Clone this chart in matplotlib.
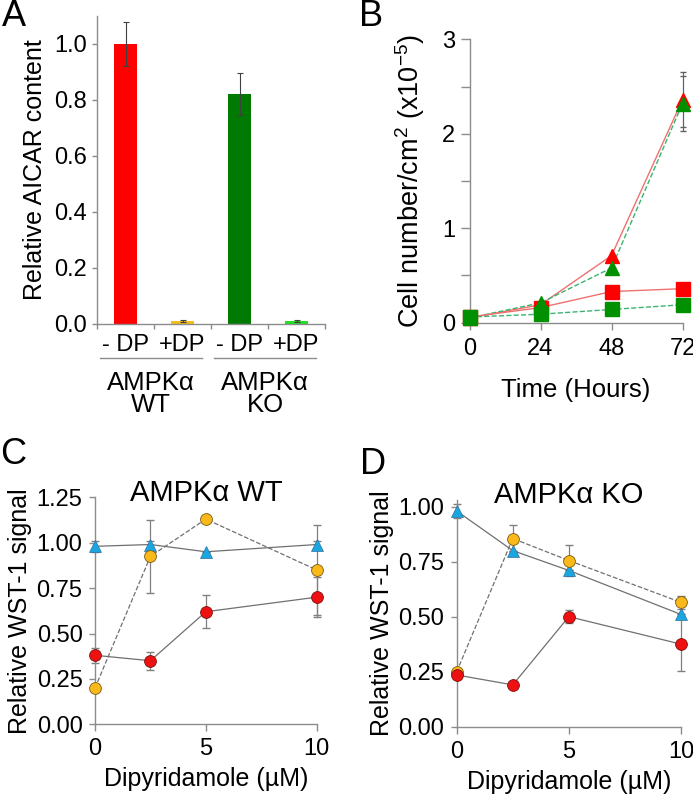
import numpy as np
import matplotlib
matplotlib.use('Agg')
import matplotlib.pyplot as plt

plt.rcParams['font.family'] = ['Liberation Sans', 'DejaVu Sans']
plt.rcParams['mathtext.default'] = 'regular'

W, H = 693, 794

# Panel A: relative AICAR content
a_labels = ['- DP', '+DP', '- DP', '+DP']
a_values = [1.0, 0.012, 0.82, 0.012]
a_errors = [0.08, 0.004, 0.075, 0.004]
a_colors = ['#ff0000', '#f5c01a', '#007a00', '#22e022']
a_groups = ['AMPK\u03b1\nWT', 'AMPK\u03b1\nKO']

# Panel B: cell number over time
b_hours = [0, 24, 48, 72]
b_wt_ctrl = [0.05, 0.19, 0.71, 2.36]
b_ko_ctrl = [0.05, 0.21, 0.58, 2.32]
b_wt_dp = [0.06, 0.16, 0.33, 0.36]
b_ko_dp = [0.06, 0.09, 0.14, 0.19]
b_wt_ctrl_err = [0.0, 0.0, 0.0, 0.29]
b_ko_ctrl_err = [0.0, 0.0, 0.0, 0.29]

# Panels C/D: WST-1 signal vs dipyridamole
dose = [0, 2.5, 5, 10]
c_blue = [0.98, 0.99, 0.95, 0.99]
c_blue_err = [0.03, 0.02, 0.0, 0.02]
c_yellow = [0.20, 0.925, 1.13, 0.85]
c_yellow_err = [0.0, 0.20, 0.0, 0.25]
c_red = [0.38, 0.35, 0.62, 0.70]
c_red_err = [0.04, 0.05, 0.09, 0.11]

d_blue = [0.98, 0.80, 0.71, 0.51]
d_blue_err = [0.03, 0.0, 0.0, 0.0]
d_yellow = [0.25, 0.855, 0.755, 0.565]
d_yellow_err = [0.0, 0.06, 0.07, 0.03]
d_red = [0.235, 0.19, 0.50, 0.375]
d_red_err = [0.0, 0.0, 0.03, 0.12]

GREY = '#8c8c8c'
TICK_FS = 17
LAB_FS = 18
LETTER_FS = 26


def px_axes(fig, left, top, right, bottom):
    return fig.add_axes([left / W, 1 - bottom / H, (right - left) / W, (bottom - top) / H])


def style_axes(ax):
    for side in ['top', 'right']:
        ax.spines[side].set_visible(False)
    for side in ['left', 'bottom']:
        ax.spines[side].set_color(GREY)
        ax.spines[side].set_linewidth(1.0)
    ax.tick_params(which='both', direction='out', color=GREY, length=4.5, width=1.0,
                   labelsize=TICK_FS, pad=4.5)


fig = plt.figure(figsize=(W / 100, H / 100), dpi=100)

# ---- A ----
axA = px_axes(fig, 97, 16, 325, 324)
style_axes(axA)
xa = np.arange(len(a_values))
axA.bar(xa, a_values, width=0.42, color=a_colors, yerr=a_errors,
        error_kw=dict(ecolor='#404040', elinewidth=0.8, capsize=2.5, capthick=0.8))
axA.set_xlim(-0.5, 3.5)
axA.set_ylim(0, 1.1)
axA.set_yticks([0, 0.2, 0.4, 0.6, 0.8, 1.0])
axA.set_yticklabels(['0.0', '0.2', '0.4', '0.6', '0.8', '1.0'])
axA.tick_params(axis='y', length=3.5, pad=4)
axA.set_xticks(xa)
axA.set_xticklabels(a_labels)
axA.set_xticks([-0.5, 0.5, 1.5, 2.5, 3.5], minor=True)
axA.tick_params(axis='x', which='major', length=0, pad=7)
axA.tick_params(axis='x', which='minor', length=3.5)
axA.set_ylabel('Relative AICAR content', fontsize=LAB_FS, labelpad=5)
for i, g in enumerate(a_groups):
    axA.plot([2 * i - 0.45, 2 * i + 1.35], [-0.112, -0.112], color=GREY, lw=1.0,
             transform=axA.get_xaxis_transform(), clip_on=False)
    axA.text(2 * i + 0.45, -0.152, g, transform=axA.get_xaxis_transform(),
             ha='center', va='top', fontsize=18.5, linespacing=0.9)
fig.text(14 / W, 1 - 16 / H, 'A', fontsize=LETTER_FS, ha='center', va='center')

# ---- B ----
axB = px_axes(fig, 469.5, 39.3, 682.5, 322.7)
style_axes(axB)
red_line = '#f07070'
green_line = '#3cb371'
axB.plot(b_hours, b_wt_ctrl, color=red_line, lw=1.0, zorder=2, clip_on=False)
axB.plot(b_hours, b_ko_ctrl, color=green_line, lw=1.0, ls='--', zorder=2, clip_on=False)
axB.plot(b_hours, b_wt_dp, color=red_line, lw=1.0, zorder=2, clip_on=False)
axB.plot(b_hours, b_ko_dp, color=green_line, lw=1.0, ls='--', zorder=2, clip_on=False)
axB.errorbar(b_hours, b_wt_ctrl, yerr=b_wt_ctrl_err, fmt='none', ecolor='#606060',
             elinewidth=0.8, capsize=2.5, zorder=1, clip_on=False)
axB.errorbar(b_hours, b_ko_ctrl, yerr=b_ko_ctrl_err, fmt='none', ecolor='#606060',
             elinewidth=0.8, capsize=2.5, zorder=1, clip_on=False)
axB.plot(b_hours, b_wt_ctrl, ls='none', marker='^', ms=10, color='#ff0000', zorder=3, clip_on=False)
axB.plot(b_hours, b_ko_ctrl, ls='none', marker='^', ms=10, color='#009000', zorder=4, clip_on=False)
axB.plot(b_hours, b_wt_dp, ls='none', marker='s', ms=9.5, color='#ff0000', zorder=3, clip_on=False)
axB.plot(b_hours, b_ko_dp, ls='none', marker='s', ms=9.5, color='#009000', zorder=4, clip_on=False)
axB.set_xlim(0, 72)
axB.set_ylim(0, 3)
axB.set_xticks(b_hours)
axB.set_yticks([0, 1, 2, 3])
axB.set_yticks([0.5, 1.5, 2.5], minor=True)
axB.tick_params(axis='y', which='both', length=6.5, pad=4)
axB.tick_params(axis='x', length=5, pad=6)
axB.set_xlabel('Time (Hours)', fontsize=LAB_FS + 0.5, labelpad=13)
axB.set_ylabel('Cell number/cm$^2$ (x10$^{-5}$)', fontsize=19.5, labelpad=11)
fig.text(371 / W, 1 - 17 / H, 'B', fontsize=LETTER_FS, ha='center', va='center')


# ---- C / D ----
def wst_panel(ax, blue, blue_err, yellow, yellow_err, red, red_err, title):
    style_axes(ax)
    ax.plot(dose, blue, color='#707070', lw=0.9, zorder=2, clip_on=False)
    ax.plot(dose, red, color='#707070', lw=0.9, zorder=2, clip_on=False)
    ax.plot(dose, yellow, color='#707070', lw=0.9, ls='--', zorder=2, clip_on=False)
    for vals, errs in [(blue, blue_err), (yellow, yellow_err), (red, red_err)]:
        ax.errorbar(dose, vals, yerr=errs, fmt='none', ecolor='#808080',
                    elinewidth=0.9, capsize=3, zorder=1, clip_on=False)
    ax.plot(dose, blue, ls='none', marker='^', ms=9, color='#1aa7e0',
            mec='#2f6f9f', mew=0.5, zorder=3, clip_on=False)
    ax.plot(dose, yellow, ls='none', marker='o', ms=8.5, color='#f9b91a',
            mec='#7a5a10', mew=0.6, zorder=4, clip_on=False)
    ax.plot(dose, red, ls='none', marker='o', ms=8.5, color='#ee1111',
            mec='#7a1010', mew=0.6, zorder=4, clip_on=False)
    ax.set_xlim(0, 10)
    ax.set_xticks([0, 5, 10])
    ax.tick_params(axis='x', length=5, pad=5)
    ax.set_xlabel('Dipyridamole (\u00b5M)', fontsize=LAB_FS, labelpad=5)
    ax.set_ylabel('Relative WST-1 signal', fontsize=LAB_FS, labelpad=3)
    ax.text(0.5, 1.02, title, transform=ax.transAxes, ha='center', va='center',
            fontsize=21)


axC = px_axes(fig, 95, 497.3, 316.7, 724.3)
wst_panel(axC, c_blue, c_blue_err, c_yellow, c_yellow_err, c_red, c_red_err, 'AMPK\u03b1 WT')
axC.set_ylim(0, 1.25)
axC.set_yticks([0, 0.25, 0.5, 0.75, 1.0, 1.25])
axC.set_yticklabels(['0.00', '0.25', '0.50', '0.75', '1.00', '1.25'])
fig.text(13 / W, 1 - 454 / H, 'C', fontsize=LETTER_FS, ha='center', va='center')

axD = px_axes(fig, 456.7, 500, 681, 726.7)
wst_panel(axD, d_blue, d_blue_err, d_yellow, d_yellow_err, d_red, d_red_err, 'AMPK\u03b1 KO')
axD.set_ylim(0, 1.03)
axD.set_yticks([0, 0.25, 0.5, 0.75, 1.0])
axD.set_yticklabels(['0.00', '0.25', '0.50', '0.75', '1.00'])
fig.text(373 / W, 1 - 465 / H, 'D', fontsize=LETTER_FS, ha='center', va='center')

fig.savefig('out.png', dpi=100)
